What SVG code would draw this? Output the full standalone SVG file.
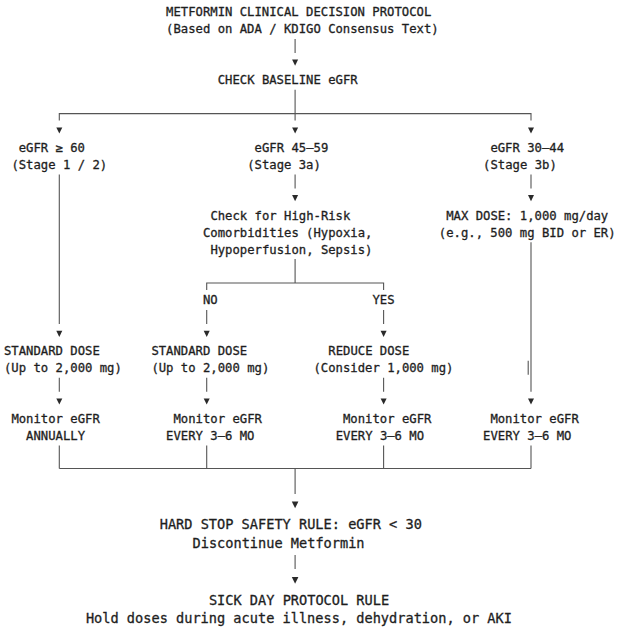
<svg xmlns="http://www.w3.org/2000/svg" xmlns:xlink="http://www.w3.org/1999/xlink" width="622" height="633" viewBox="0 0 622 633">
<style>
  .t { font-family: "DejaVu Sans Mono", "Liberation Mono", monospace; font-size: 12.24px; fill: #1e1e1e; stroke: #1e1e1e; stroke-width: 0.3px; }
  .b { font-size: 13.62px; }
  .c { stroke: #555; stroke-width: 1.1; fill: none; }
  .a { fill: #2a2a2a; }
</style>
<defs>
  <path id="ah" d="M-3,-3H3L0,3.2Z"/>
  <path id="ah2" d="M-3.3,-3.3H3.3L0,3.5Z"/>
</defs>
<rect width="622" height="633" fill="#fff"/>

<g id="connectors">
  <line class="c" x1="295.1" y1="38.9" x2="295.1" y2="52.9"/>
  <use class="a" href="#ah" x="295.1" y="62.6"/>
  <line class="c" x1="295.1" y1="89.7" x2="295.1" y2="120.6"/>
  <polyline class="c" points="59.3,120.6 59.3,113.6 531,113.6 531,120.6"/>
  <use class="a" href="#ah" x="59.3" y="130.4"/>
  <use class="a" href="#ah" x="295.1" y="130.4"/>
  <use class="a" href="#ah" x="531" y="130.4"/>
  <line class="c" x1="59.3" y1="174.4" x2="59.3" y2="323.9"/>
  <use class="a" href="#ah" x="59.3" y="333.7"/>
  <line class="c" x1="59.3" y1="377.7" x2="59.3" y2="391.7"/>
  <use class="a" href="#ah" x="59.3" y="401.4"/>
  <line class="c" x1="295.1" y1="174.4" x2="295.1" y2="188.4"/>
  <use class="a" href="#ah" x="295.1" y="198.1"/>
  <line class="c" x1="295.1" y1="259.1" x2="295.1" y2="283"/>
  <polyline class="c" points="206.7,290 206.7,283 383.6,283 383.6,290"/>
  <line class="c" x1="206.7" y1="309.9" x2="206.7" y2="323.9"/>
  <line class="c" x1="383.6" y1="309.9" x2="383.6" y2="323.9"/>
  <use class="a" href="#ah" x="206.7" y="333.7"/>
  <use class="a" href="#ah" x="383.6" y="333.7"/>
  <line class="c" x1="206.7" y1="377.7" x2="206.7" y2="391.7"/>
  <line class="c" x1="383.6" y1="377.7" x2="383.6" y2="391.7"/>
  <use class="a" href="#ah" x="206.7" y="401.4"/>
  <use class="a" href="#ah" x="383.6" y="401.4"/>
  <line class="c" x1="531" y1="174.4" x2="531" y2="188.4"/>
  <use class="a" href="#ah" x="531" y="198.1"/>
  <line class="c" x1="531" y1="242.2" x2="531" y2="391.7"/>
  <line class="c" x1="528.2" y1="360.7" x2="528.2" y2="374.7"/>
  <use class="a" href="#ah" x="531" y="401.4"/>
  <line class="c" x1="59.3" y1="445.4" x2="59.3" y2="468.5"/>
  <line class="c" x1="206.7" y1="445.4" x2="206.7" y2="468.5"/>
  <line class="c" x1="383.6" y1="445.4" x2="383.6" y2="468.5"/>
  <line class="c" x1="531" y1="445.4" x2="531" y2="468.5"/>
  <line class="c" x1="59.3" y1="468.5" x2="531" y2="468.5"/>
  <line class="c" x1="295.1" y1="468.5" x2="295.1" y2="494"/>
  <use class="a" href="#ah2" x="295.1" y="504.8"/>
  <line class="c" x1="295.1" y1="555" x2="295.1" y2="569"/>
  <use class="a" href="#ah2" x="295.1" y="580.3"/>
</g>

<g id="title"><text class="t" x="166.1" y="16.4">METFORMIN CLINICAL DECISION PROTOCOL</text><text class="t" x="166.1" y="33.3">(Based on ADA / KDIGO Consensus Text)</text></g>
<g id="check-baseline"><text class="t" x="217.7" y="84.2">CHECK BASELINE eGFR</text></g>

<g id="egfr-60"><text class="t" x="18.7" y="151.9">eGFR ≥ 60</text><text class="t" x="11.4" y="168.9">(Stage 1 / 2)</text></g>
<g id="egfr-45-59"><text class="t" x="254.6" y="151.9">eGFR 45–59</text><text class="t" x="247.2" y="168.9">(Stage 3a)</text></g>
<g id="egfr-30-44"><text class="t" x="490.4" y="151.9">eGFR 30–44</text><text class="t" x="483.1" y="168.9">(Stage 3b)</text></g>

<g id="comorbidities"><text class="t" x="210.4" y="219.7">Check for High-Risk</text><text class="t" x="203" y="236.6">Comorbidities (Hypoxia,</text><text class="t" x="210.4" y="253.6">Hypoperfusion, Sepsis)</text></g>
<g id="max-dose"><text class="t" x="446.2" y="219.7">MAX DOSE: 1,000 mg/day</text><text class="t" x="438.8" y="236.6">(e.g., 500 mg BID or ER)</text></g>

<g id="label-no"><text class="t" x="203" y="304.4">NO</text></g>
<g id="label-yes"><text class="t" x="372.5" y="304.4">YES</text></g>

<g id="standard-dose-1"><text class="t" x="4" y="355.2">STANDARD DOSE</text><text class="t" x="4" y="372.1">(Up to 2,000 mg)</text></g>
<g id="standard-dose-2"><text class="t" x="151.4" y="355.2">STANDARD DOSE</text><text class="t" x="151.4" y="372.1">(Up to 2,000 mg)</text></g>
<g id="reduce-dose"><text class="t" x="328.3" y="355.2">REDUCE DOSE</text><text class="t" x="313.5" y="372.1">(Consider 1,000 mg)</text></g>

<g id="monitor-annually"><text class="t" x="11.4" y="423">Monitor eGFR</text><text class="t" x="26.1" y="439.9">ANNUALLY</text></g>
<g id="monitor-2"><text class="t" x="173.5" y="423">Monitor eGFR</text><text class="t" x="166.1" y="439.9">EVERY 3–6 MO</text></g>
<g id="monitor-3"><text class="t" x="343" y="423">Monitor eGFR</text><text class="t" x="335.7" y="439.9">EVERY 3–6 MO</text></g>
<g id="monitor-4"><text class="t" x="490.4" y="423">Monitor eGFR</text><text class="t" x="483.1" y="439.9">EVERY 3–6 MO</text></g>

<g id="hard-stop"><text class="t b" x="159.7" y="528.5">HARD STOP SAFETY RULE: eGFR &lt; 30</text><text class="t b" x="192.5" y="547.5">Discontinue Metformin</text></g>
<g id="sick-day"><text class="t b" x="208.9" y="604.5">SICK DAY PROTOCOL RULE</text><text class="t b" x="85.9" y="623">Hold doses during acute illness, dehydration, or AKI</text></g>
</svg>
